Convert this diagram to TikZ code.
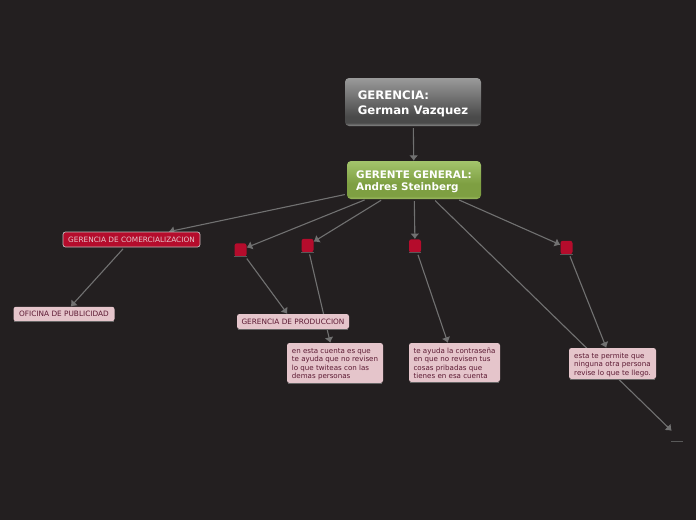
\documentclass[tikz,border=0pt]{standalone}
\usepackage{fontspec}
\setmainfont{DejaVu Sans}
\usetikzlibrary{arrows.meta,backgrounds}
\definecolor{fondo}{HTML}{231F20}
\definecolor{linea}{HTML}{717171}
\definecolor{rojo}{HTML}{B50C2C}
\definecolor{rosa}{HTML}{E5C5CB}
\definecolor{vino}{HTML}{5C1A33}
\definecolor{grisA}{HTML}{9A9A9A}
\definecolor{grisB}{HTML}{4A4A4A}
\definecolor{grisC}{HTML}{8A8A8A}
\definecolor{verdeA}{HTML}{A3C46C}
\definecolor{verdeB}{HTML}{7E9F42}
\definecolor{verdeC}{HTML}{9DBB62}
\pgfdeclareverticalshading{rootshade}{100bp}{color(0bp)=(grisC);color(25bp)=(grisC);color(28.5bp)=(grisB);color(35bp)=(grisB);color(75bp)=(grisA);color(100bp)=(grisA)}
\pgfdeclareverticalshading{greenshade}{100bp}{color(0bp)=(verdeC);color(25bp)=(verdeC);color(29bp)=(verdeB);color(45bp)=(verdeB);color(75bp)=(verdeA);color(100bp)=(verdeA)}
\newcommand{\baja}[1]{\rule{0pt}{#1}}
\tikzset{
  caja/.style={rounded corners=4pt, align=left, inner xsep=0pt, inner ysep=0pt},
  padre/.style={caja, shading=rootshade, text=white, font=\bfseries\fontsize{11.7}{15}\selectfont},
  general/.style={caja, shading=greenshade, text=white, font=\bfseries\fontsize{10.4}{12.4}\selectfont},
  rama/.style={caja, rounded corners=2.5pt, fill=rojo, draw=black!25, line width=0.7pt, text=rosa, font=\fontsize{7.35}{8.5}\selectfont},
  hoja/.style={caja, rounded corners=2.5pt, fill=rosa, text=vino, font=\fontsize{7.35}{8.5}\selectfont},
  nota/.style={hoja, font=\fontsize{7.1}{8.5}\selectfont},
  cuadro/.style={rounded corners=2.5pt, fill=rojo, minimum width=12pt, minimum height=13.5pt, inner sep=0pt},
  flecha/.style={draw=linea, line width=1.1pt, shorten <=2pt, -{Latex[length=5.5pt,width=9pt]}},
  borde/.style={draw=black!65, line width=1pt},
  filo/.style={draw=black!60, line width=0.8pt, shorten <=1pt, shorten >=1pt}
}
\begin{document}
\begin{tikzpicture}[x=1pt,y=-1pt]
\useasboundingbox (0,0) rectangle (696,520);
\begin{pgfonlayer}{background}
\fill[fondo] (0,0) rectangle (696,520);
\end{pgfonlayer}
% nodos
\node (root) [padre, minimum width=136pt, minimum height=48pt] at (413,102) {\baja{12pt}GERENCIA:\\German Vazquez};
\node (gral) [general, minimum width=134pt, minimum height=38pt] at (414,180) {\baja{11.7pt}GERENTE GENERAL:\\Andres Steinberg};
\node (comer) [rama, minimum width=137pt, minimum height=15pt] at (131.5,239.5) {GERENCIA DE COMERCIALIZACION};
\node (ofi) [hoja, minimum width=101pt, minimum height=14.5pt] at (64,314) {OFICINA DE PUBLICIDAD};
\node (sq1) [cuadro] at (240.5,250) {};
\node (sq2) [cuadro] at (307.5,245.5) {};
\node (sq3) [cuadro] at (415,246) {};
\node (sq4) [cuadro] at (566.5,247.5) {};
\node (prod) [hoja, minimum width=112pt, minimum height=15pt] at (293,321.5) {GERENCIA DE PRODUCCION};
\node (nota1) [nota, minimum width=96pt, minimum height=40pt] at (335,363) {\baja{7.5pt}en esta cuenta es que\\te ayuda que no revisen\\lo que twiteas con las\\demas personas};
\node (nota2) [nota, minimum width=91pt, minimum height=39pt] at (454.5,362.5) {\baja{7.5pt}te ayuda la contraseña\\en que no revisen tus\\cosas pribadas que\\tienes en esa cuenta};
\node (nota3) [nota, minimum width=87pt, minimum height=31pt] at (612.5,363.5) {\baja{7.5pt}esta te permite que\\ninguna otra persona\\revise lo que te llego.};
\node (vacio) [minimum width=12pt, minimum height=10pt, inner sep=0pt] at (677,436) {};
% bordes inferiores
\draw[borde] (sq1.south west) -- (sq1.south east);
\draw[borde] (sq2.south west) -- (sq2.south east);
\draw[borde] (sq3.south west) -- (sq3.south east);
\draw[borde] (sq4.south west) -- (sq4.south east);
\draw[borde] (vacio.south west) -- (vacio.south east);
\draw[filo] (ofi.south west) -- (ofi.south east);
\draw[filo] (prod.south west) -- (prod.south east);
\draw[filo] (nota1.south west) -- (nota1.south east);
\draw[filo] (nota2.south west) -- (nota2.south east);
\draw[filo] (nota3.south west) -- (nota3.south east);
% conectores
\begin{pgfonlayer}{background}
\draw[flecha] (root) -- (gral);
\draw[flecha] (gral) -- (comer);
\draw[flecha] (gral) -- (sq1);
\draw[flecha] (gral) -- (sq2);
\draw[flecha] (gral) -- (sq3);
\draw[flecha] (gral) -- (sq4);
\draw[flecha] (gral) -- (vacio);
\draw[flecha] (comer) -- (ofi);
\draw[flecha] (sq1) -- (prod);
\draw[flecha] (sq2) -- (nota1);
\draw[flecha] (sq3) -- (nota2);
\draw[flecha] (sq4) -- (nota3);
\end{pgfonlayer}
\end{tikzpicture}
\end{document}
